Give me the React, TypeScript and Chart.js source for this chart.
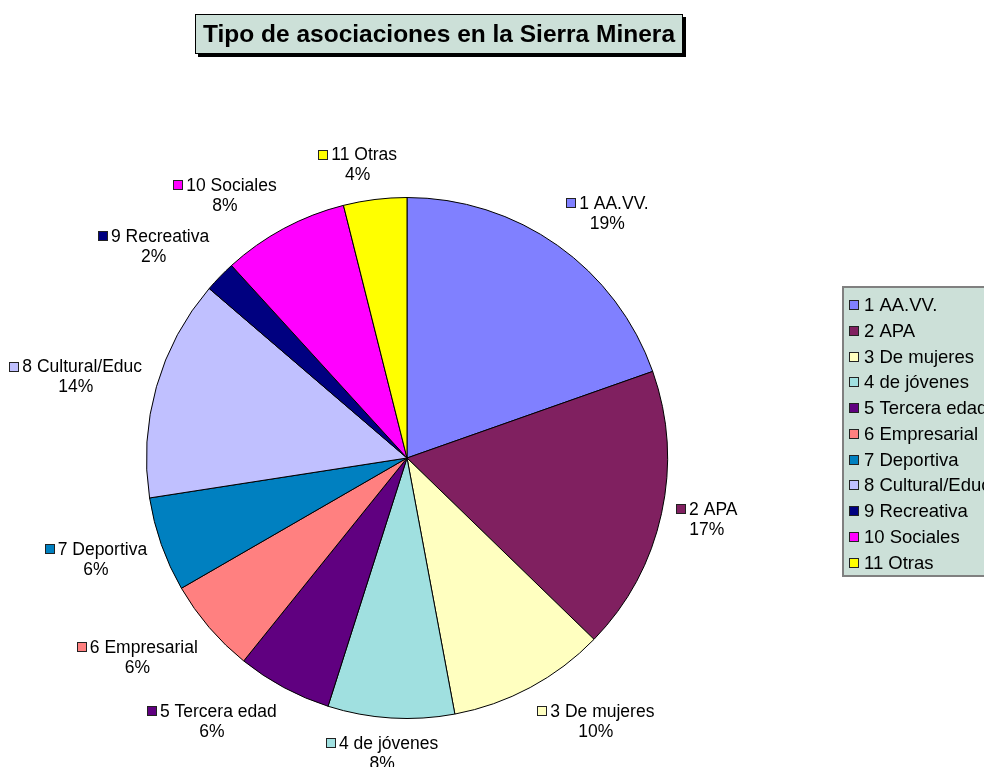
import React, { useEffect, useRef } from 'react';
import { Chart, registerables } from 'chart.js';

Chart.register(...registerables);

// ---- data ----
const categories = [
  '1 AA.VV.',
  '2 APA',
  '3 De mujeres',
  '4 de jóvenes',
  '5 Tercera edad',
  '6 Empresarial',
  '7 Deportiva',
  '8 Cultural/Educ',
  '9 Recreativa',
  '10 Sociales',
  '11 Otras',
];
const counts = [10, 9, 5, 4, 3, 3, 3, 7, 1, 4, 2];
const percentLabels = ['19%', '17%', '10%', '8%', '6%', '6%', '6%', '14%', '2%', '8%', '4%'];
const sliceColors = [
  '#8080FF',
  '#802060',
  '#FFFFC0',
  '#A0E0E0',
  '#600080',
  '#FF8080',
  '#0080C0',
  '#C0C0FF',
  '#000080',
  '#FF00FF',
  '#FFFF00',
];
const chartTitle = 'Tipo de asociaciones en la Sierra Minera';

// ---- styling ----
const FONT = '"Liberation Sans", Arial, Helvetica, sans-serif';
const PANEL_BG = '#CCE0D8';
const W = 984;
const H = 767;

const clamp01 = (v: number) => Math.max(0, Math.min(1, v));

const decorPlugin = {
  id: 'decor',
  beforeDraw(chart: any) {
    const ctx: CanvasRenderingContext2D = chart.ctx;
    ctx.save();
    // Title box with shadow
    ctx.fillStyle = '#000';
    ctx.fillRect(198, 17, 488, 40);
    ctx.fillStyle = PANEL_BG;
    ctx.fillRect(195, 14, 488, 40);
    ctx.strokeStyle = '#000';
    ctx.lineWidth = 1;
    ctx.strokeRect(195.5, 14.5, 487, 39);
    ctx.fillStyle = '#000';
    ctx.font = `bold 24.5px ${FONT}`;
    ctx.textAlign = 'center';
    ctx.textBaseline = 'middle';
    ctx.fillText(chartTitle, 439, 35);

    // Legend panel
    ctx.fillStyle = PANEL_BG;
    ctx.fillRect(843, 287, 160, 289);
    ctx.strokeStyle = '#808080';
    ctx.lineWidth = 2;
    ctx.strokeRect(843, 287, 160, 289);
    ctx.font = `18.5px ${FONT}`;
    ctx.textAlign = 'left';
    ctx.textBaseline = 'middle';
    categories.forEach((cat, i) => {
      const cy = 305 + i * 25.75;
      ctx.fillStyle = sliceColors[i];
      ctx.fillRect(849, Math.round(cy) - 5, 10, 10);
      ctx.strokeStyle = '#222';
      ctx.lineWidth = 1;
      ctx.strokeRect(849.5, Math.round(cy) - 4.5, 9, 9);
      ctx.fillStyle = '#000';
      ctx.fillText(cat, 864, cy + 1);
    });
    ctx.restore();
  },
  afterDatasetsDraw(chart: any) {
    const ctx: CanvasRenderingContext2D = chart.ctx;
    const meta = chart.getDatasetMeta(0);
    ctx.save();
    ctx.font = `17.5px ${FONT}`;
    ctx.textBaseline = 'middle';
    meta.data.forEach((arc: any, i: number) => {
      const { x, y, startAngle, endAngle, outerRadius } = arc.getProps(
        ['x', 'y', 'startAngle', 'endAngle', 'outerRadius'],
        true
      );
      const a = (startAngle + endAngle) / 2;
      const ux = Math.cos(a);
      const uy = Math.sin(a);
      const d = outerRadius + 15;
      const ax = x + d * ux;
      const ay = y + d * uy;
      const tw = ctx.measureText(categories[i]).width;
      const w = 13 + tw;
      const h = 40;
      const fx = Math.sign(ux) * clamp01(4.1 * (Math.abs(ux) - 0.027));
      const fy = Math.sign(uy) * clamp01(2.9 * (Math.abs(uy) - 0.17));
      const cx = ax + (fx * w) / 2;
      const cy = ay + (fy * h) / 2;
      const left = cx - w / 2;
      const top = cy - h / 2;
      const l1 = top + 10;
      const l2 = top + 30;
      // color square
      ctx.fillStyle = sliceColors[i];
      ctx.fillRect(Math.round(left), Math.round(l1) - 5, 10, 10);
      ctx.strokeStyle = '#222';
      ctx.lineWidth = 1;
      ctx.strokeRect(Math.round(left) + 0.5, Math.round(l1) - 4.5, 9, 9);
      ctx.fillStyle = '#000';
      ctx.textAlign = 'left';
      ctx.fillText(categories[i], left + 13, l1 + 1);
      ctx.textAlign = 'center';
      ctx.fillText(percentLabels[i], cx, l2 + 1);
    });
    ctx.restore();
  },
};

export default function App() {
  const canvasRef = useRef<HTMLCanvasElement | null>(null);

  useEffect(() => {
    const canvas = canvasRef.current;
    if (!canvas) return;
    const chart = new Chart(canvas, {
      type: 'pie',
      data: {
        labels: categories,
        datasets: [
          {
            data: counts,
            backgroundColor: sliceColors,
            borderColor: '#000',
            borderWidth: 1,
          },
        ],
      },
      options: {
        responsive: false,
        animation: false,
        devicePixelRatio: 1,
        layout: { padding: { left: 145, right: W - 669, top: 197, bottom: H - 719 } },
        plugins: {
          legend: { display: false },
          title: { display: false },
          tooltip: { enabled: false },
        },
      },
      plugins: [decorPlugin],
    } as any);
    return () => chart.destroy();
  }, []);

  return (
    <div style={{ position: 'absolute', left: 0, top: 0, width: W, height: H, background: '#fff', overflow: 'hidden' }}>
      <canvas ref={canvasRef} width={W} height={H} style={{ display: 'block', width: W, height: H }} />
    </div>
  );
}
